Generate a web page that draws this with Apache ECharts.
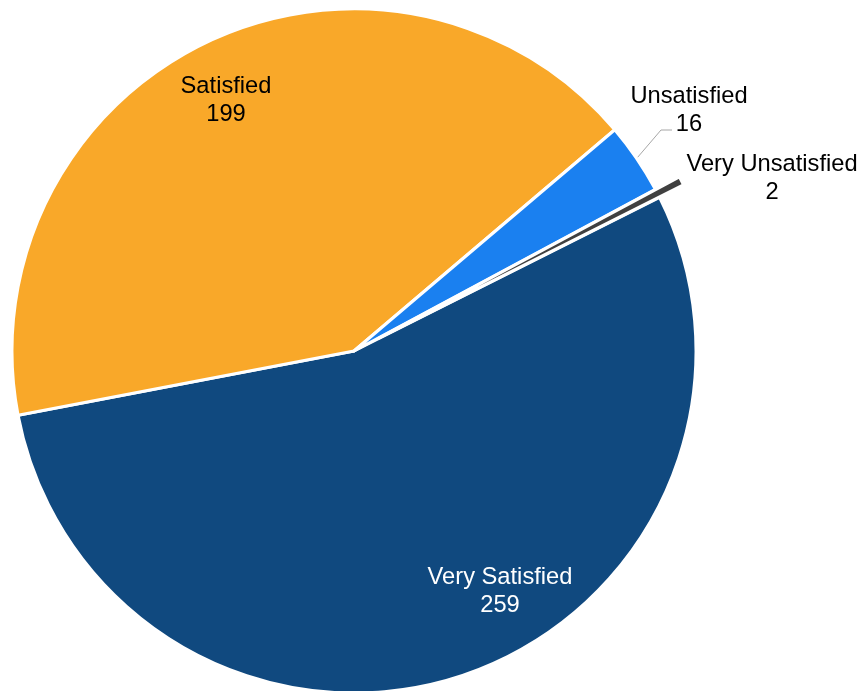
<!DOCTYPE html>
<html>
<head>
<meta charset="utf-8">
<script src="https://cdn.jsdelivr.net/npm/echarts@6/dist/echarts.min.js"></script>
<style>
html,body{margin:0;padding:0;background:#fff;}
#chart{width:865px;height:691px;}
</style>
</head>
<body>
<div id="chart"></div>
<script>
// Data
const categories = ['Very Satisfied', 'Satisfied', 'Unsatisfied', 'Very Unsatisfied'];
const values = [259, 199, 16, 2];
const colors = ['#10497F', '#F9A829', '#1A80F0', '#404040'];
const exploded = [false, false, false, true];
// label placement (pixel centers) and text colours
const labelPos = [[500, 591], [226, 100], [689, 110], [772, 178]];
const labelColors = ['#ffffff', '#000000', '#000000', '#000000'];

const CX = 354, CY = 351, R = 342, START = 26.7, EXPLODE = 27;

const chart = echarts.init(document.getElementById('chart'), null, {renderer: 'canvas'});

// compute offset centre for the exploded slice from its mid angle
const total = values.reduce((a, b) => a + b, 0);
let acc = 0;
const midAngles = values.map(v => { const m = START - (acc + v / 2) / total * 360; acc += v; return m; });
const exIdx = exploded.indexOf(true);
const exRad = midAngles[exIdx] * Math.PI / 180;
const exCenter = [CX + EXPLODE * Math.cos(exRad), CY - EXPLODE * Math.sin(exRad)];

const hidden = {color: 'rgba(0,0,0,0)', borderColor: 'rgba(0,0,0,0)', borderWidth: 0};

function makeData(visibleFn) {
  return categories.map((name, i) => {
    const vis = visibleFn(i);
    return {
      name: name,
      value: values[i],
      itemStyle: vis ? {color: colors[i]} : hidden,
      label: vis ? {show: true, position: i === 2 ? 'outside' : 'inside', color: labelColors[i]} : {show: false},
      labelLine: {show: vis && i === 2}
    };
  });
}

const common = {
  type: 'pie',
  radius: R,
  startAngle: START,
  clockwise: true,
  avoidLabelOverlap: false,
  silent: true,
  itemStyle: {borderColor: '#ffffff', borderWidth: 3},
  emphasis: {disabled: true},
  label: {
    formatter: '{b}\n{c}',
    fontFamily: 'Liberation Sans, Arial, sans-serif',
    fontSize: 23.7,
    lineHeight: 28,
    align: 'center'
  },
  labelLine: {lineStyle: {color: '#A6A6A6', width: 1}},
  labelLayout: function (params) {
    const i = params.dataIndex;
    const p = labelPos[i];
    const out = {x: p[0], y: p[1], align: 'center', verticalAlign: 'middle'};
    if (i === 2 && params.labelLinePoints) {
      const s = params.labelLinePoints[0];
      out.labelLinePoints = [[s[0], s[1]], [661, 130], [672, 130]];
    }
    return out;
  }
};

chart.setOption({
  animation: false,
  series: [
    Object.assign({}, common, {center: [CX, CY], data: makeData(i => !exploded[i])}),
    Object.assign({}, common, {center: exCenter, data: makeData(i => exploded[i])})
  ]
});
</script>
</body>
</html>
